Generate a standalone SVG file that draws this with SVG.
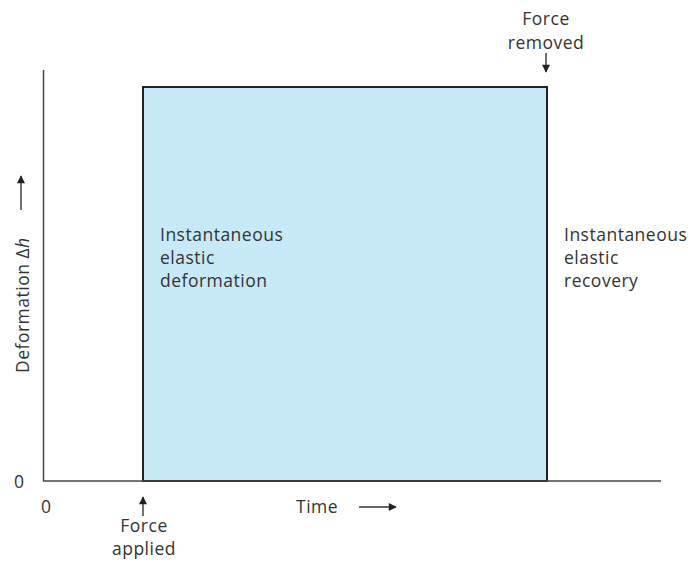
<svg xmlns="http://www.w3.org/2000/svg" width="693" height="561" viewBox="0 0 693 561">
<style>
text{font-family:"Open Sans",Lato,"Liberation Sans",sans-serif;font-size:17.5px;letter-spacing:0.5px;fill:#333}
.ax{stroke:#444;stroke-width:1.5;fill:none}
.ar{stroke:#333;stroke-width:1.4;fill:none}
</style>
<defs>
<marker id="ah" viewBox="0 0 10 10" refX="9" refY="5" markerWidth="9" markerHeight="8" markerUnits="userSpaceOnUse" orient="auto"><path d="M0,0 L10,5 L0,10 z" fill="#222"/></marker>
</defs>
<rect width="693" height="561" fill="#fff"/>
<g id="box">
<rect x="143" y="87" width="404" height="394" fill="#c8e9f8" stroke="#222" stroke-width="2"/>
</g>
<g id="axes">
<line class="ax" x1="43.5" y1="70" x2="43.5" y2="481"/>
<line class="ax" x1="43" y1="481" x2="661" y2="481"/>
</g>
<g id="connectors">
<line class="ar" x1="21" y1="210" x2="21" y2="176" marker-end="url(#ah)"/>
<line class="ar" x1="359" y1="507" x2="396" y2="507" marker-end="url(#ah)"/>
<line class="ar" x1="143" y1="516" x2="143" y2="497" marker-end="url(#ah)"/>
<line class="ar" x1="546" y1="53" x2="546" y2="72" marker-end="url(#ah)"/>
</g>
<g id="labels">
<text transform="translate(29,373) rotate(-90)">Deformation Δ<tspan font-style="italic">h</tspan></text>
<text x="14" y="488">0</text>
<text x="41" y="513">0</text>
<text x="296" y="513">Time</text>
<text x="144" y="532" text-anchor="middle">Force</text>
<text x="144" y="555" text-anchor="middle">applied</text>
<text x="546" y="25" text-anchor="middle">Force</text>
<text x="546" y="49" text-anchor="middle">removed</text>
<text x="160" y="241">Instantaneous</text>
<text x="160" y="264">elastic</text>
<text x="160" y="287">deformation</text>
<text x="564" y="241">Instantaneous</text>
<text x="564" y="264">elastic</text>
<text x="564" y="287">recovery</text>
</g>
</svg>
